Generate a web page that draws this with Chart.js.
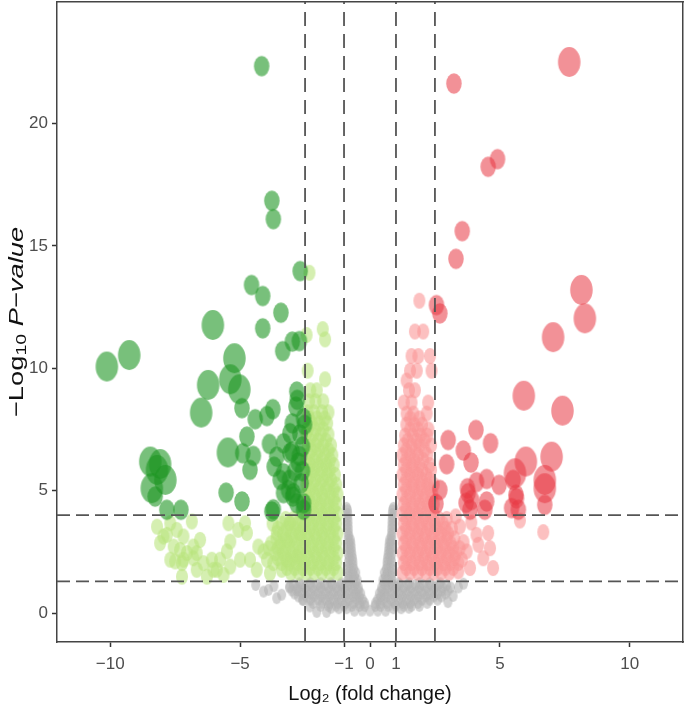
<!DOCTYPE html>
<html><head><meta charset="utf-8">
<script src="https://cdn.jsdelivr.net/npm/chart.js@4/dist/chart.umd.min.js"></script>
<style>html,body{margin:0;padding:0;background:#fff}#wrap{width:690px;height:711px;position:relative}</style>
</head><body><div id="wrap"><canvas id="c"></canvas></div>
<script>
// ---- axis ticks and cut-offs ----
const xTicks = [-10, -5, -1, 0, 1, 5, 10];
const yTicks = [0, 5, 10, 15, 20];
const xCutoffs = [-2.5, -1, 1, 2.5];
const yCutoffs = [1.3, 4];

// ---- significant down-regulated: [log2FC, -log10P, sizeLevel] ----
const downSig = [[-4.17,22.34,1],[-3.78,16.84,1],[-3.72,16.09,1],[-2.69,13.97,1],[-4.56,13.4,1],[-4.13,12.95,1],[-3.43,12.27,1],[-6.05,11.77,2],[-4.13,11.63,1],[-2.99,11.09,1],[-2.72,11.11,1],[-3.36,10.7,1],[-9.27,10.54,2],[-10.13,10.07,2],[-5.22,10.41,2],[-5.38,9.55,2],[-5.03,9.14,2],[-6.23,9.32,2],[-6.5,8.19,2],[-4.93,8.37,1],[-4.42,7.92,1],[-3.97,8.05,1],[-3.74,8.33,1],[-2.82,9.05,1],[-2.8,8.71,1],[-2.85,8.43,1],[-2.56,7.96,1],[-2.52,7.69,1],[-2.99,7.75,1],[-3.08,7.35,1],[-3.33,6.94,1],[-3.87,6.91,1],[-4.74,7.21,1],[-5.47,6.56,2],[-4.9,6.53,1],[-4.49,6.42,1],[-4.62,5.85,1],[-2.72,6.42,1],[-2.76,6.15,1],[-3.59,6.39,1],[-3.69,5.98,1],[-3.33,5.71,1],[-3.1,5.44,1],[-3.46,5.44,1],[-3.14,5.03,1],[-2.97,4.76,1],[-2.82,4.49,1],[-2.56,4.49,1],[-5.54,4.92,1],[-4.93,4.56,1],[-3.72,4.24,1],[-8.46,6.19,2],[-8.08,6.09,2],[-8.2,5.85,2],[-7.88,5.44,2],[-8.4,5.1,2],[-8.27,4.76,1],[-7.82,4.22,1],[-7.28,4.22,1],[-3.33,4.9,1],[-2.95,4.9,1],[-2.56,4.22,1],[-3.78,4.15,1],[-2.65,5.3,1],[-2.9,5.8,1],[-2.6,6.8,1],[-3.0,6.6,1],[-2.7,7.3,1],[-2.6,5.8,1],[-3.08,6.54,1]];

// ---- significant up-regulated: [log2FC, -log10P, sizeLevel] ----
const upSig = [[7.67,22.51,2],[3.23,21.63,1],[4.55,18.23,1],[4.91,18.54,1],[3.55,15.6,1],[3.31,14.47,1],[8.14,13.2,2],[8.27,12.04,2],[2.56,12.58,1],[2.69,12.24,1],[7.05,11.27,2],[5.92,8.88,2],[7.41,8.27,2],[4.08,7.48,1],[3.01,7.07,1],[4.64,6.94,1],[3.59,6.64,1],[3.89,6.15,1],[2.95,6.08,1],[6.0,6.19,2],[6.99,6.39,2],[5.58,5.71,2],[6.73,5.44,2],[6.73,5.1,2],[4.49,5.48,1],[4.97,5.24,1],[4.1,5.35,1],[3.78,4.9,1],[3.91,4.62,1],[2.69,5.03,1],[2.54,4.46,1],[4.49,4.56,1],[4.42,4.22,1],[5.64,4.69,1],[5.45,4.29,1],[5.71,4.22,1],[6.73,4.42,1],[3.85,4.22,1],[5.51,5.44,1],[5.62,4.83,1],[3.7,4.5,1],[3.75,5.1,1]];

// ---- down-regulated, below thresholds: [log2FC, -log10P] ----
const downNs = [[-8.2,3.53],[-8.08,2.86],[-7.82,3.2],[-7.56,2.72],[-7.69,2.18],[-7.24,2.04],[-7.24,1.49],[-7.05,2.45],[-6.8,2.72],[-6.54,2.99],[-6.28,1.49],[-6.03,1.77],[-5.77,2.18],[-5.64,1.56],[-6.86,3.74],[-7.69,3.67],[-7.95,3.13],[-7.44,3.4],[-7.18,3.13],[-7.31,2.58],[-6.67,2.45],[-7.5,2.11],[-7.18,2.18],[-6.8,2.24],[-6.41,2.04],[-6.09,2.18],[-6.67,1.77],[-5.9,1.77],[-5.38,1.9],[-5.51,2.52],[-5.38,2.92],[-5.45,3.67],[-5.07,3.4],[-4.81,3.67],[-4.74,3.27],[-5.0,2.18],[-4.62,2.18],[-4.3,2.72],[-4.36,1.77],[-4.1,2.52],[-3.97,2.18],[-3.72,2.04],[-3.46,2.72],[-3.2,2.99],[-3.59,3.27],[-3.08,3.67],[-3.85,1.63],[-3.4,1.77],[-3.2,2.18],[-2.82,2.31],[-2.69,3.27],
[-1.25,1.65],[-1.55,1.65],[-1.85,1.65],[-2.15,1.65],[-2.45,1.65],[-2.75,1.65],[-3.05,1.65],
[-1.4,1.85],[-1.7,1.85],[-2.0,1.85],[-2.3,1.85],[-2.6,1.85],[-2.9,1.85],[-3.2,1.85],
[-1.3,2.05],[-1.6,2.05],[-1.9,2.05],[-2.2,2.05],[-2.5,2.05],[-2.8,2.05],[-3.1,2.05],[-3.4,2.05],
[-1.4,2.25],[-1.75,2.25],[-2.05,2.25],[-2.35,2.25],[-2.65,2.25],[-2.95,2.25],[-3.25,2.25],[-3.55,2.25],
[-1.25,2.45],[-1.55,2.45],[-1.85,2.45],[-2.15,2.45],[-2.45,2.45],[-2.75,2.45],[-3.05,2.45],[-3.35,2.45],[-3.65,2.45],
[-1.4,2.65],[-1.7,2.65],[-2.0,2.65],[-2.3,2.65],[-2.6,2.65],[-2.95,2.65],[-3.25,2.65],[-3.55,2.65],[-3.9,2.65],
[-1.3,2.85],[-1.6,2.85],[-1.9,2.85],[-2.2,2.85],[-2.5,2.85],[-2.8,2.85],[-3.1,2.85],[-3.45,2.85],[-3.8,2.85],
[-1.4,3.05],[-1.75,3.05],[-2.05,3.05],[-2.35,3.05],[-2.65,3.05],[-2.95,3.05],[-3.25,3.05],[-3.6,3.05],
[-1.25,3.25],[-1.55,3.25],[-1.85,3.25],[-2.15,3.25],[-2.45,3.25],[-2.75,3.25],[-3.05,3.25],[-3.35,3.25],
[-1.4,3.45],[-1.7,3.45],[-2.0,3.45],[-2.3,3.45],[-2.6,3.45],[-2.9,3.45],[-3.2,3.45],[-3.55,3.45],
[-1.3,3.65],[-1.6,3.65],[-1.9,3.65],[-2.2,3.65],[-2.5,3.65],[-2.8,3.65],[-3.1,3.65],[-3.4,3.65],[-3.75,3.65],
[-1.4,3.85],[-1.75,3.85],[-2.05,3.85],[-2.35,3.85],[-2.65,3.85],[-2.95,3.85],[-3.25,3.85],
[-1.25,4.05],[-1.55,4.05],[-1.85,4.05],[-2.15,4.05],[-2.45,4.05],
[-1.4,4.25],[-1.7,4.25],[-2.0,4.25],[-2.3,4.25],
[-1.3,4.45],[-1.6,4.45],[-1.9,4.45],[-2.2,4.45],[-2.45,4.45],
[-1.4,4.65],[-1.75,4.65],[-2.05,4.65],[-2.35,4.65],
[-1.25,4.85],[-1.55,4.85],[-1.85,4.85],[-2.15,4.85],[-2.45,4.85],
[-1.4,5.05],[-1.7,5.05],[-2.0,5.05],[-2.3,5.05],
[-1.3,5.25],[-1.6,5.25],[-1.9,5.25],[-2.2,5.25],[-2.45,5.25],
[-1.5,5.45],[-1.8,5.45],[-2.1,5.45],[-2.4,5.45],
[-1.35,5.65],[-1.65,5.65],[-1.95,5.65],[-2.25,5.65],
[-1.55,5.85],[-1.85,5.85],[-2.15,5.85],[-2.4,5.85],
[-1.4,6.05],[-1.7,6.05],[-2.0,6.05],[-2.3,6.05],
[-1.55,6.25],[-1.85,6.25],[-2.15,6.25],[-2.45,6.25],
[-1.45,6.45],[-1.75,6.45],[-2.05,6.45],[-2.35,6.45],
[-1.6,6.65],[-1.95,6.65],[-2.25,6.65],
[-1.5,6.85],[-1.8,6.85],[-2.1,6.85],[-2.4,6.85],
[-1.7,7.05],[-2.0,7.05],[-2.3,7.05],
[-1.6,7.3],[-1.9,7.3],[-2.2,7.3],[-2.45,7.3],
[-1.8,7.5],[-2.1,7.5],[-2.4,7.5],
[-1.65,7.75],[-1.95,7.75],[-2.25,7.75],
[-1.75,7.95],[-2.05,7.95],[-2.35,7.95],
[-1.6,8.2],[-1.85,8.2],[-2.15,8.2],[-2.4,8.2],
[-1.8,8.65],[-2.1,8.65],[-2.35,8.65],
[-2.05,9.1],[-2.3,9.1],[-1.73,9.55],[-2.4,9.9],
[-2.44,11.36],[-1.82,11.6],[-1.73,11.18],[-2.33,13.9]];

// ---- up-regulated, below thresholds: [log2FC, -log10P] ----
const upNs = [[1.25,1.65],[1.55,1.65],[1.85,1.65],[2.15,1.65],[2.45,1.65],[2.75,1.65],[3.05,1.65],
[1.4,1.85],[1.7,1.85],[2.0,1.85],[2.3,1.85],[2.6,1.85],[2.9,1.85],[3.2,1.85],
[1.3,2.05],[1.6,2.05],[1.9,2.05],[2.2,2.05],[2.5,2.05],[2.8,2.05],[3.1,2.05],[3.4,2.05],
[1.4,2.25],[1.75,2.25],[2.05,2.25],[2.35,2.25],[2.65,2.25],[2.95,2.25],[3.25,2.25],
[1.25,2.45],[1.55,2.45],[1.85,2.45],[2.15,2.45],[2.45,2.45],[2.75,2.45],[3.05,2.45],[3.3,2.45],
[1.4,2.65],[1.7,2.65],[2.0,2.65],[2.3,2.65],[2.6,2.65],[2.9,2.65],[3.2,2.65],[3.45,2.65],
[1.3,2.85],[1.6,2.85],[1.9,2.85],[2.2,2.85],[2.5,2.85],[2.8,2.85],[3.1,2.85],
[1.4,3.05],[1.75,3.05],[2.05,3.05],[2.35,3.05],[2.65,3.05],[2.95,3.05],[3.25,3.05],
[1.25,3.25],[1.55,3.25],[1.85,3.25],[2.15,3.25],[2.45,3.25],[2.75,3.25],[3.0,3.25],
[1.4,3.45],[1.7,3.45],[2.0,3.45],[2.3,3.45],[2.6,3.45],[2.9,3.45],[3.15,3.45],
[1.3,3.65],[1.6,3.65],[1.9,3.65],[2.2,3.65],[2.5,3.65],[2.8,3.65],
[1.4,3.85],[1.75,3.85],[2.05,3.85],[2.35,3.85],[2.65,3.85],[2.95,3.85],
[3.46,3.53],[4.1,3.2],[4.55,3.27],[4.17,2.79],[4.62,2.65],[3.72,2.52],[3.53,2.18],[4.36,2.24],[3.85,1.84],[4.74,1.84],[6.67,3.31],[5.77,3.78],[3.6,2.9],[3.4,1.7],[3.9,3.7],[3.3,3.95],
[1.25,4.05],[1.55,4.05],[1.85,4.05],[2.15,4.05],[2.45,4.05],
[1.4,4.25],[1.7,4.25],[2.0,4.25],[2.3,4.25],
[1.3,4.45],[1.6,4.45],[1.9,4.45],[2.2,4.45],[2.45,4.45],
[1.4,4.65],[1.75,4.65],[2.05,4.65],[2.35,4.65],
[1.25,4.85],[1.55,4.85],[1.85,4.85],[2.15,4.85],[2.4,4.85],
[1.4,5.05],[1.7,5.05],[2.0,5.05],[2.3,5.05],
[1.3,5.25],[1.6,5.25],[1.9,5.25],[2.2,5.25],[2.45,5.25],
[1.4,5.45],[1.7,5.45],[2.0,5.45],[2.3,5.45],
[1.25,5.65],[1.55,5.65],[1.85,5.65],[2.15,5.65],
[1.4,5.85],[1.7,5.85],[2.0,5.85],[2.35,5.85],
[1.3,6.05],[1.6,6.05],[1.9,6.05],[2.3,6.05],
[1.4,6.25],[1.7,6.25],[2.05,6.25],
[1.25,6.45],[1.55,6.45],[1.85,6.45],[2.2,6.45],
[1.4,6.65],[1.75,6.65],[2.1,6.65],
[1.3,6.85],[1.6,6.85],[1.9,6.85],[2.35,6.85],
[1.45,7.05],[1.8,7.05],[2.1,7.05],
[1.35,7.25],[1.65,7.25],[1.95,7.25],[2.2,7.25],
[1.55,7.5],[1.85,7.5],[2.25,7.5],
[1.4,7.7],[1.7,7.7],[2.0,7.7],
[1.55,7.95],[1.9,7.95],
[1.41,8.15],[1.67,8.15],[2.18,8.15],
[1.3,8.6],[1.6,8.6],[2.24,8.6],
[1.5,9.1],[1.73,9.1],[1.41,9.5],
[1.54,9.9],[1.8,9.9],[2.37,9.9],
[1.6,10.5],[1.86,10.5],[2.31,10.5],
[1.73,11.5],[2.05,11.5],[1.9,12.76]];

// ---- not significant: [log2FC, -log10P] ----
const notSig = [[-0.6,0.1],[-0.3,0.1],[0,0.1],[0.3,0.1],[0.6,0.1],
[-1.5,0.22],[-1.2,0.2],[-0.9,0.2],[0.9,0.2],[1.2,0.2],[1.5,0.22],
[-1.9,0.3],[-1.6,0.3],[-1.3,0.3],[-1.0,0.3],[-0.7,0.3],[-0.4,0.3],[-0.2,0.3],[0.2,0.3],[0.4,0.3],[0.7,0.3],[1.0,0.3],[1.3,0.3],[1.6,0.3],[1.9,0.3],
[-2.2,0.42],[-1.85,0.42],[-1.55,0.42],[-1.25,0.42],[-0.95,0.42],[-0.65,0.42],[-0.4,0.42],[-0.22,0.42],[0.22,0.42],[0.4,0.42],[0.65,0.42],[0.95,0.42],[1.25,0.42],[1.55,0.42],[1.85,0.42],[2.2,0.42],
[-2.6,0.55],[-2.3,0.55],[-2.0,0.55],[-1.7,0.55],[-1.4,0.55],[-1.1,0.55],[-0.8,0.55],[-0.5,0.55],[-0.3,0.55],[0.3,0.55],[0.5,0.55],[0.8,0.55],[1.1,0.55],[1.4,0.55],[1.7,0.55],[2.0,0.55],[2.3,0.55],[2.6,0.55],
[-2.75,0.68],[-2.45,0.68],[-2.15,0.68],[-1.85,0.68],[-1.55,0.68],[-1.25,0.68],[-0.95,0.68],[-0.65,0.68],[-0.42,0.68],[0.42,0.68],[0.65,0.68],[0.95,0.68],[1.25,0.68],[1.55,0.68],[1.85,0.68],[2.15,0.68],[2.45,0.68],[2.75,0.68],
[-2.9,0.8],[-2.6,0.8],[-2.3,0.8],[-2.0,0.8],[-1.7,0.8],[-1.4,0.8],[-1.1,0.8],[-0.8,0.8],[-0.55,0.8],[-0.36,0.8],[0.36,0.8],[0.55,0.8],[0.8,0.8],[1.1,0.8],[1.4,0.8],[1.7,0.8],[2.0,0.8],[2.3,0.8],[2.6,0.8],[2.9,0.8],
[-3.0,0.92],[-2.75,0.92],[-2.45,0.92],[-2.15,0.92],[-1.85,0.92],[-1.55,0.92],[-1.25,0.92],[-0.95,0.92],[-0.65,0.92],[-0.45,0.92],[0.45,0.92],[0.65,0.92],[0.95,0.92],[1.25,0.92],[1.55,0.92],[1.85,0.92],[2.15,0.92],[2.45,0.92],[2.75,0.92],[3.0,0.92],
[-3.1,1.05],[-2.8,1.05],[-2.5,1.05],[-2.2,1.05],[-1.9,1.05],[-1.6,1.05],[-1.3,1.05],[-1.0,1.05],[-0.7,1.05],[-0.45,1.05],[0.45,1.05],[0.7,1.05],[1.0,1.05],[1.3,1.05],[1.6,1.05],[1.9,1.05],[2.2,1.05],[2.5,1.05],[2.8,1.05],[3.1,1.05],
[-2.95,1.15],[-2.65,1.15],[-2.35,1.15],[-2.05,1.15],[-1.75,1.15],[-1.45,1.15],[-1.15,1.15],[-0.85,1.15],[-0.6,1.15],[0.6,1.15],[0.85,1.15],[1.15,1.15],[1.45,1.15],[1.75,1.15],[2.05,1.15],[2.35,1.15],[2.65,1.15],[2.95,1.15],
[-2.7,1.22],[-2.3,1.22],[-1.9,1.22],[-1.5,1.22],[-1.1,1.22],[-0.8,1.22],[-0.52,1.22],[0.52,1.22],[0.8,1.22],[1.1,1.22],[1.5,1.22],[1.9,1.22],[2.3,1.22],[2.7,1.22],
[-0.83,1.35],[-0.65,1.35],[-0.5,1.35],[0.5,1.35],[0.65,1.35],[0.83,1.35],
[-0.83,1.5],[-0.6,1.5],[0.6,1.5],[0.83,1.5],
[-0.83,1.65],[-0.68,1.65],[-0.55,1.65],[0.55,1.65],[0.68,1.65],[0.83,1.65],
[-0.83,1.8],[-0.63,1.8],[0.63,1.8],[0.83,1.8],
[-0.8,1.95],[-0.66,1.95],[0.66,1.95],[0.8,1.95],
[-0.83,2.1],[-0.66,2.1],[0.66,2.1],[0.83,2.1],
[-0.8,2.25],[-0.68,2.25],[0.68,2.25],[0.8,2.25],
[-0.83,2.4],[-0.7,2.4],[0.7,2.4],[0.83,2.4],
[-0.8,2.55],[-0.72,2.55],[0.72,2.55],[0.8,2.55],
[-0.83,2.7],[-0.73,2.7],[0.73,2.7],[0.83,2.7],
[-0.82,2.85],[-0.74,2.85],[0.74,2.85],[0.82,2.85],
[-0.84,3.0],[-0.76,3.0],[0.76,3.0],[0.84,3.0],
[-0.82,3.15],[0.82,3.15],[-0.84,3.3],[0.84,3.3],[-0.84,3.45],[0.84,3.45],[-0.85,3.6],[0.85,3.6],[-0.85,3.75],[0.85,3.75],[-0.86,3.9],[0.86,3.9],[-0.86,4.05],[0.86,4.05],[-0.87,4.2],[0.87,4.2],[-0.9,4.3],[0.9,4.3],
[-4.1,0.88],[-3.91,0.95],[-3.59,0.61],[-3.4,0.75],[-3.08,1.09],[-2.82,0.95],[-2.56,0.54],[-2.31,0.27],[-2.05,0.05],[-1.67,0.05],[-3.7,1.1],[-4.4,1.15],[3.2,0.7],[3.4,1.05],[3.0,0.45],[3.6,1.2]];

// ---- styling ----
const COLORS = {
  downSig: 'rgba(30,150,35,0.6)',
  upSig: 'rgba(232,55,65,0.55)',
  downNs: 'rgba(185,228,125,0.6)',
  upNs: 'rgba(250,150,150,0.6)',
  notSig: 'rgba(180,180,180,0.6)'
};
const ASPECT = 1.33;
const cache = {};
function ellipse(w, color) {
  const key = w + '|' + color;
  if (cache[key]) return cache[key];
  const h = w * ASPECT;
  const cv = document.createElement('canvas');
  cv.width = Math.ceil(w) + 2; cv.height = Math.ceil(h) + 2;
  const c = cv.getContext('2d');
  c.fillStyle = color;
  c.beginPath();
  c.ellipse(cv.width / 2, cv.height / 2, w / 2, h / 2, 0, 0, Math.PI * 2);
  c.fill();
  cache[key] = cv;
  return cv;
}
const levelWidth = {1: 15.5, 2: 22.5};
function toPts(arr) { return arr.map(p => ({x: p[0], y: p[1], s: p[2] || 0})); }
function scatterSet(label, arr, color, fixedW) {
  return {
    type: 'scatter', label, data: toPts(arr),
    pointRadius: 1, pointHoverRadius: 1,
    pointStyle: ctx => (ctx.raw ? ellipse(fixedW || levelWidth[ctx.raw.s], color) : 'circle'),
    backgroundColor: color, borderWidth: 0
  };
}

const X_MIN = -12.05, X_MAX = 12.05, Y_MIN = -1.18, Y_MAX = 24.96;
const FONT = 'Liberation Sans';

const lineSets = [];
xCutoffs.forEach(v => lineSets.push({
  type: 'line', label: 'x=' + v, data: [{x: v, y: Y_MIN}, {x: v, y: Y_MAX}],
  borderColor: '#555', borderWidth: 1.8, borderDash: [14, 8], pointRadius: 0, fill: false
}));
yCutoffs.forEach(v => lineSets.push({
  type: 'line', label: 'y=' + v, data: [{x: X_MIN, y: v}, {x: X_MAX, y: v}],
  borderColor: '#555', borderWidth: 1.8, borderDash: [13, 6], pointRadius: 0, fill: false
}));

const datasets = lineSets.concat([
  scatterSet('Up (significant)', upSig, COLORS.upSig),
  scatterSet('Down (significant)', downSig, COLORS.downSig),
  scatterSet('Up', upNs, COLORS.upNs, 12),
  scatterSet('Down', downNs, COLORS.downNs, 12),
  scatterSet('Not significant', notSig, COLORS.notSig, 9)
]);

const minus = v => (v < 0 ? '\u2212' + Math.abs(v) : String(v));

const yTitlePlugin = {
  id: 'yTitle',
  afterDraw(chart) {
    const {ctx, chartArea} = chart;
    const cy = (chartArea.top + chartArea.bottom) / 2;
    ctx.save();
    ctx.translate(17, cy);
    ctx.rotate(-Math.PI / 2);
    ctx.scale(1.3, 1);
    ctx.fillStyle = '#111';
    ctx.textBaseline = 'middle';
    const parts = [
      {t: '\u2212Log', f: '21px "' + FONT + '"', dy: 0},
      {t: '10', f: '15px "' + FONT + '"', dy: 5},
      {t: ' ', f: '21px "' + FONT + '"', dy: 0},
      {t: 'P\u2212value', f: 'italic 21px "' + FONT + '"', dy: 0}
    ];
    let total = 0;
    parts.forEach(p => { ctx.font = p.f; p.w = ctx.measureText(p.t).width; total += p.w; });
    let x = -total / 2;
    parts.forEach(p => { ctx.font = p.f; ctx.fillText(p.t, x, p.dy); x += p.w; });
    ctx.restore();
  }
};

const zeroPad = s => { s.paddingTop = 0; s.paddingBottom = 0; s.paddingLeft = 0; s.paddingRight = 0; };

new Chart(document.getElementById('c'), {
  type: 'scatter',
  data: {datasets},
  plugins: [yTitlePlugin],
  options: {
    responsive: true, maintainAspectRatio: false, animation: false, events: [],
    layout: {padding: 0},
    plugins: {legend: {display: false}, tooltip: {enabled: false}},
    scales: {
      x: {
        type: 'linear', position: 'bottom', min: X_MIN, max: X_MAX,
        afterBuildTicks: s => { s.ticks = xTicks.map(v => ({value: v})); },
        afterFit: s => { s.height = 69; zeroPad(s); },
        grid: {display: true, drawOnChartArea: false, drawTicks: true, tickLength: 5, tickColor: '#333', tickWidth: 1.5},
        border: {display: true, color: '#444', width: 1.5},
        ticks: {color: '#4d4d4d', font: {family: FONT, size: 17}, padding: 7, maxRotation: 0, autoSkip: false, callback: v => minus(v)},
        title: {display: true, text: 'Log\u2082 (fold change)', color: '#111', font: {family: FONT, size: 20}, padding: {top: 0, bottom: 5}}
      },
      y: {
        type: 'linear', position: 'left', min: Y_MIN, max: Y_MAX,
        afterBuildTicks: s => { s.ticks = yTicks.map(v => ({value: v})); },
        afterFit: s => { s.width = 57; zeroPad(s); },
        grid: {display: true, drawOnChartArea: false, drawTicks: true, tickLength: 5, tickColor: '#333', tickWidth: 1.5},
        border: {display: true, color: '#444', width: 1.5},
        ticks: {color: '#4d4d4d', font: {family: FONT, size: 17}, padding: 4, callback: v => minus(v)}
      },
      x2: {
        type: 'linear', position: 'top', min: X_MIN, max: X_MAX,
        afterFit: s => { s.height = 2; zeroPad(s); },
        grid: {display: false}, ticks: {display: false},
        border: {display: true, color: '#444', width: 1.5}
      },
      y2: {
        type: 'linear', position: 'right', min: Y_MIN, max: Y_MAX,
        afterFit: s => { s.width = 7; zeroPad(s); },
        grid: {display: false}, ticks: {display: false},
        border: {display: true, color: '#444', width: 1.5}
      }
    }
  }
});
</script>
</body></html>
